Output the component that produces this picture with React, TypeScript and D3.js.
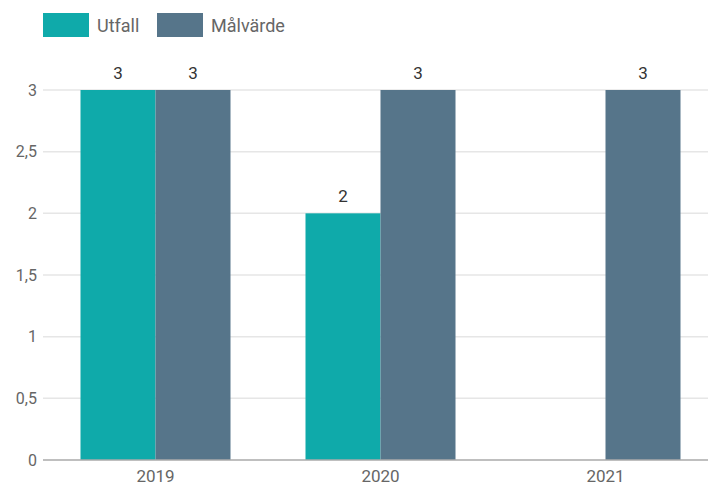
import React from "react";
import * as d3 from "d3";

const categories = ["2019", "2020", "2021"];
const seriesNames = ["Utfall", "Målvärde"];
const utfall: (number | null)[] = [3, 2, null];
const malvarde: (number | null)[] = [3, 3, 3];
const yTicks = [0, 0.5, 1, 1.5, 2, 2.5, 3];
const colors = ["#0FAAAA", "#56758A"];

const W = 708;
const H = 486;
const left = 43;
const top = 90;
const bottom = 460;

export default function App() {
  const x = d3.scaleBand<string>().domain(categories).range([left, left + 675]).paddingInner(0).paddingOuter(0);
  const inner = d3.scaleBand<string>().domain(seriesNames).range([0, x.bandwidth()]).paddingInner(0).paddingOuter(0.5);
  const y = d3.scaleLinear().domain([0, 3]).range([bottom, top]);
  const fmt = (v: number) => String(v).replace(".", ",");
  const series = [utfall, malvarde];
  const font = "Roboto, sans-serif";
  return (
    <svg width={W} height={H} style={{ position: "absolute", left: 0, top: 0 }} fontFamily={font}>
      <rect width={W} height={H} fill="#fff" />
      {yTicks.map((t) => (
        <g key={t}>
          {t !== 0 && <line x1={left} x2={W} y1={y(t)} y2={y(t)} stroke="#e6e6e6" strokeWidth={1.5} />}
          <text x={37} y={y(t)} dy="0.35em" textAnchor="end" fontSize={16} fill="#666">{fmt(t)}</text>
        </g>
      ))}
      {categories.map((c, i) => (
        <g key={c}>
          {series.map((s, j) => {
            const v = s[i];
            if (v == null) return null;
            const bx = (x(c) as number) + (inner(seriesNames[j]) as number);
            const bw = inner.bandwidth();
            return (
              <g key={j}>
                <rect x={bx} y={y(v)} width={bw} height={y(0) - y(v)} fill={colors[j]} />
                <text x={bx + bw / 2} y={y(v) - 11} textAnchor="middle" fontSize={17} fill="#333">{fmt(v)}</text>
              </g>
            );
          })}
          <text x={(x(c) as number) + x.bandwidth() / 2} y={482} textAnchor="middle" fontSize={17} fill="#666">{c}</text>
        </g>
      ))}
      <line x1={left} x2={W} y1={bottom} y2={bottom} stroke="#aaa" strokeWidth={1.5} />
      {seriesNames.map((n, j) => {
        const lx = j === 0 ? 43 : 157;
        return (
          <g key={n}>
            <rect x={lx} y={13} width={46} height={24} fill={colors[j]} />
            <text x={lx + 54} y={31.5} fontSize={18} fill="#666">{n}</text>
          </g>
        );
      })}
    </svg>
  );
}
